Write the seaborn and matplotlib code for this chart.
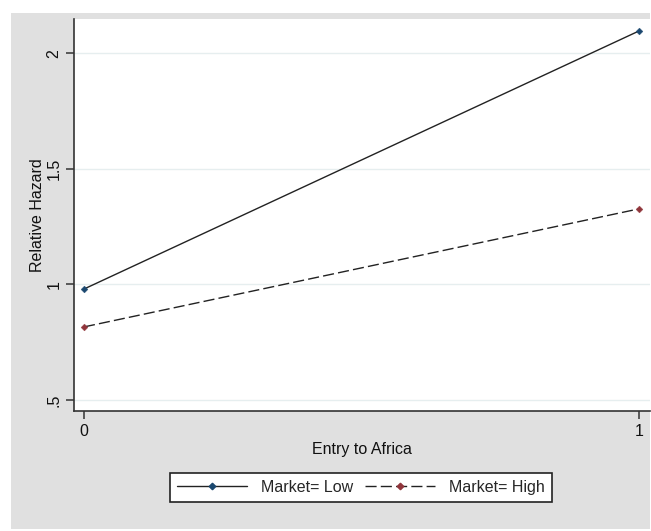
import matplotlib
matplotlib.use("Agg")
import matplotlib.pyplot as plt
import seaborn as sns
import pandas as pd
from matplotlib.patches import Rectangle
from matplotlib.lines import Line2D

entry = [0, 1]
low_vals = [0.98, 2.097]
high_vals = [0.816, 1.327]
series_names = ["Market= Low", "Market= High"]
yticks = [0.5, 1, 1.5, 2]
ytick_labels = [".5", "1", "1.5", "2"]
xticks = [0, 1]

df = pd.DataFrame({
    "Entry to Africa": entry + entry,
    "Relative Hazard": low_vals + high_vals,
    "Market": [series_names[0]] * 2 + [series_names[1]] * 2,
})

sns.set_theme(style="white")
plt.rcParams["font.family"] = ["Liberation Sans", "DejaVu Sans"]

W, H = 651, 531
fig = plt.figure(figsize=(W / 100, H / 100), dpi=100, facecolor="white")
fig.patches.append(Rectangle((11 / W, 2 / H), (650 - 11) / W, (529 - 13) / H,
                             transform=fig.transFigure, facecolor="#e0e0e0",
                             edgecolor="none", zorder=-10))
ax = fig.add_axes([74 / W, (531 - 411) / H, (650 - 74) / W, (411 - 19) / H])
ax.set_facecolor("white")

colors = {series_names[0]: "#1a476f", series_names[1]: "#90353b"}
line_dashes = {series_names[0]: None, series_names[1]: (8, 3)}

for name in series_names:
    sub = df[df["Market"] == name]
    sns.lineplot(data=sub, x="Entry to Africa", y="Relative Hazard", ax=ax,
                 color="#222222", lw=1.0, legend=False)
    if line_dashes[name] is not None:
        ax.lines[-1].set_dashes(line_dashes[name])
    sns.scatterplot(data=sub, x="Entry to Africa", y="Relative Hazard", ax=ax,
                    color=colors[name], marker="D", s=12, edgecolor=colors[name],
                    legend=False, zorder=5)

ax.set_xlim(-0.018, 1.02)
ax.set_ylim(0.452, 2.149)
ax.set_xticks(xticks)
ax.set_xticklabels([str(t) for t in xticks])
ax.set_yticks(yticks)
ax.set_yticklabels(ytick_labels, rotation=90, va="center")
ax.yaxis.grid(True, color="#e6eeef", lw=1)
ax.xaxis.grid(False)
for s in ["top", "right"]:
    ax.spines[s].set_visible(False)
for s in ["left", "bottom"]:
    ax.spines[s].set_color("#333333")
    ax.spines[s].set_linewidth(1.2)
ax.tick_params(axis="both", which="both", direction="out", length=6, width=1.1,
               color="#333333", labelsize=11.5, labelcolor="#111111",
               left=True, bottom=True)
ax.tick_params(axis="y", pad=3)
ax.set_xlabel("Entry to Africa", fontsize=11.5, color="#111111", labelpad=2)
ax.set_ylabel("Relative Hazard", fontsize=11.5, color="#111111", labelpad=1)

handles = [
    Line2D([0], [0], color="#222222", lw=1.0, marker="D", markersize=3.3,
           markerfacecolor=colors[series_names[0]], markeredgecolor=colors[series_names[0]]),
    Line2D([0], [0], color="#222222", lw=1.0, dashes=(8, 3), marker="D", markersize=3.3,
           markerfacecolor=colors[series_names[1]], markeredgecolor=colors[series_names[1]]),
]
leg = fig.legend(handles, series_names, loc="center", ncol=2,
                 bbox_to_anchor=(361 / W, 1 - 487.5 / H), fontsize=11.5,
                 frameon=True, fancybox=False, handlelength=4.4,
                 columnspacing=0.7, handletextpad=0.9, borderpad=0.45,
                 borderaxespad=0)
leg.get_frame().set_edgecolor("#222222")
leg.get_frame().set_linewidth(1.2)
leg.get_frame().set_facecolor("white")
leg.get_frame().set_alpha(1)

fig.savefig("out.png", dpi=100, facecolor=fig.get_facecolor())
